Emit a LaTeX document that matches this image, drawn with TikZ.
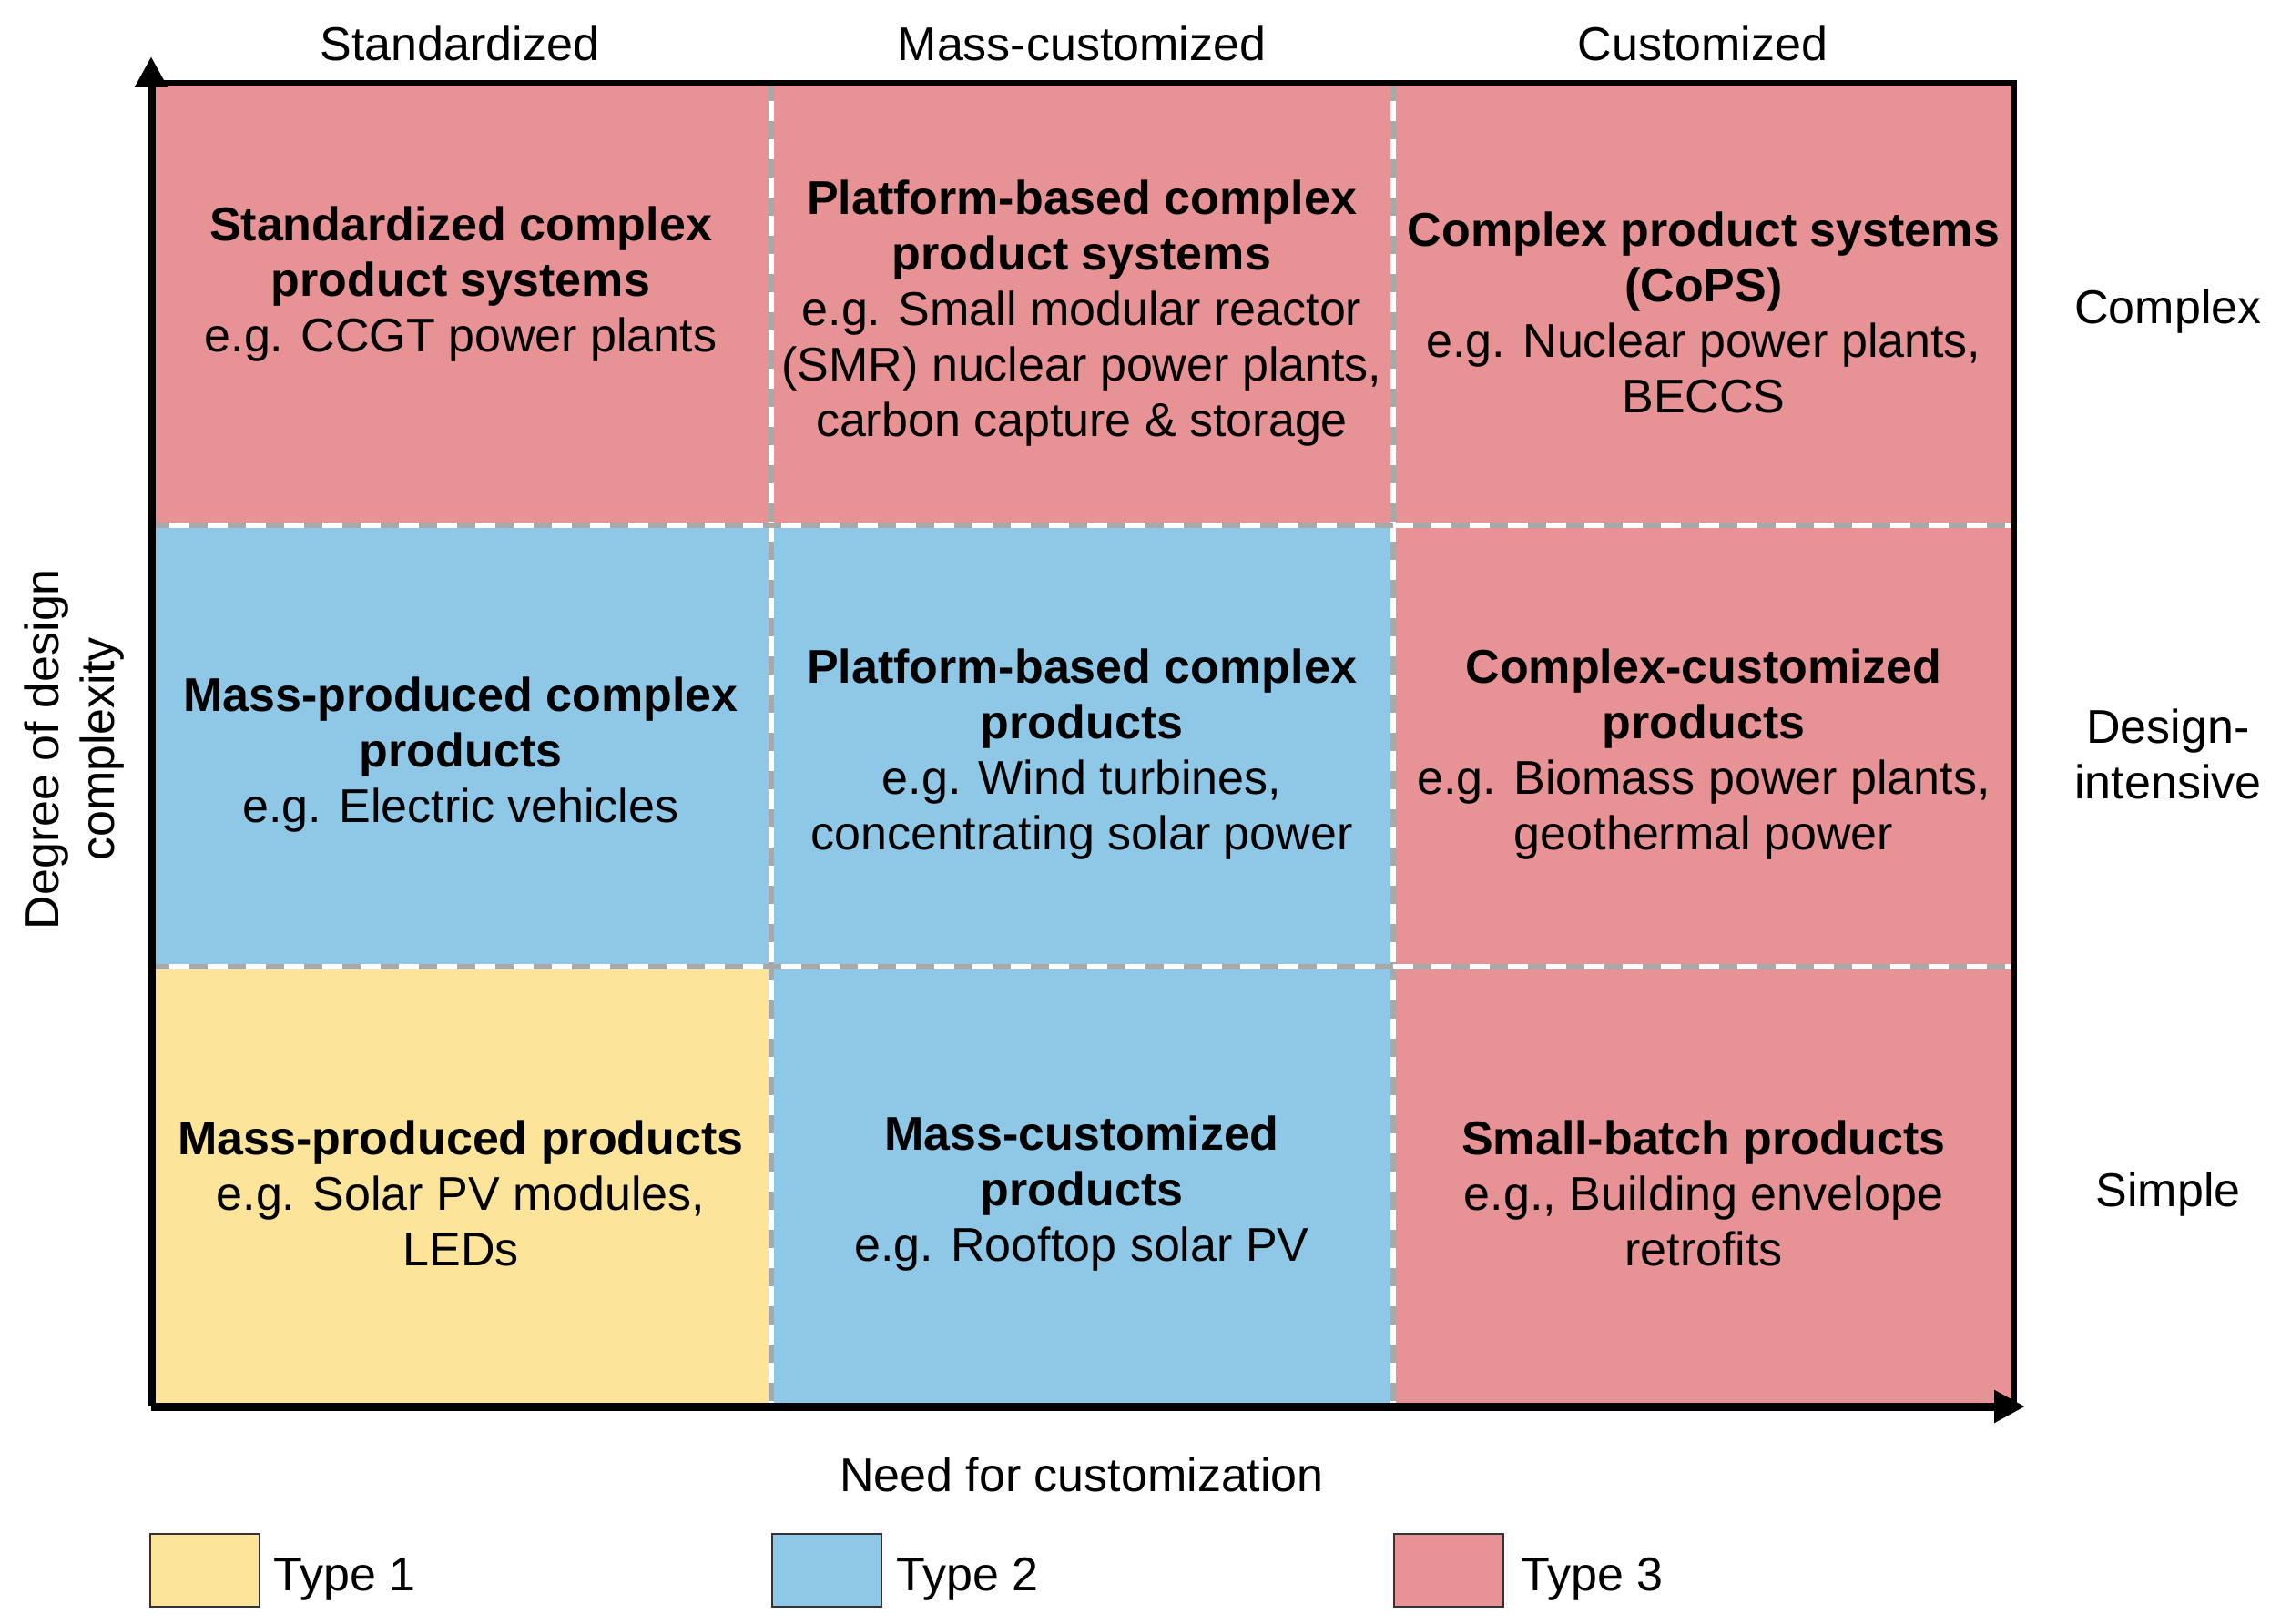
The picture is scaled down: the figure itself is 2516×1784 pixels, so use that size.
\documentclass[tikz,border=0pt]{standalone}
\usepackage{fontspec}
\setmainfont{Liberation Sans}
\usetikzlibrary{arrows.meta}
\definecolor{pinkc}{RGB}{231,146,148}
\definecolor{bluec}{RGB}{143,200,231}
\definecolor{yellowc}{RGB}{253,228,155}
\definecolor{dashgrey}{RGB}{168,168,168}
\begin{document}
\begin{tikzpicture}[x=1pt,y=-1pt,
  txt/.style={align=center, inner sep=0pt, font=\fontsize{52}{61}\selectfont},
  sepwhite/.style={draw=white, line width=6pt},
  sepgrey/.style={draw=dashgrey, line width=6pt, dash pattern=on 20pt off 22pt},
  border/.style={draw=black, line width=5.5pt},
  axis/.style={draw=black, line width=9pt, -{Triangle[length=34pt,width=34pt]}},
  legendbox/.style={draw=black!80, line width=2pt, fill=#1, minimum width=120pt, minimum height=80pt, inner sep=0pt}
]
\useasboundingbox (0,0) rectangle (2516,1784);
% grid coordinates
\coordinate (O) at (166,1545);
\coordinate (TL) at (166,91);
\coordinate (TR) at (2212,91);
\coordinate (BR) at (2212,1545);
\coordinate (Ytip) at (166,62);
\coordinate (Xtip) at (2224,1545);
% cells
\fill[pinkc] (166,91) rectangle (847,577);
\fill[pinkc] (847,91) rectangle (1530,577);
\fill[pinkc] (1530,91) rectangle (2212,577);
\fill[bluec] (166,577) rectangle (847,1062);
\fill[bluec] (847,577) rectangle (1530,1062);
\fill[pinkc] (1530,577) rectangle (2212,1062);
\fill[yellowc] (166,1062) rectangle (847,1545);
\fill[bluec] (847,1062) rectangle (1530,1545);
\fill[pinkc] (1530,1062) rectangle (2212,1545);
% separators
\coordinate (v1t) at (847,91); \coordinate (v1b) at (847,1545);
\coordinate (v2t) at (1530,91); \coordinate (v2b) at (1530,1545);
\coordinate (h1l) at (166,577); \coordinate (h1r) at (2212,577);
\coordinate (h2l) at (166,1062); \coordinate (h2r) at (2212,1062);
\foreach \a/\b in {v1t/v1b, v2t/v2b, h1l/h1r, h2l/h2r}{
  \draw[sepwhite] (\a) -- (\b);
  \draw[sepgrey] (\a) -- (\b);
}
% borders
\draw[border] (TL) -- (TR) -- (BR);
% axes
\draw[axis] (O) -- (Ytip);
\draw[axis] (O) -- (Xtip);
% headers
\node[txt] (hstd) at (505,48) {Standardized};
\node[txt] (hmass) at (1188,48) {Mass-customized};
\node[txt] (hcust) at (1870,48) {Customized};
% right labels
\node[txt] (rcomplex) at (2381,342) {Complex};
\node[txt] (rdesign) at (2381,828) {Design-\\intensive};
\node[txt] (rsimple) at (2381,1312) {Simple};
% axis labels
\node[txt, rotate=90] (ylab) at (82,823) {Degree of design\\complexity};
\node[txt] (xlab) at (1188,1620) {Need for customization};
% cell texts
\node[txt] (c11) at (506,312) {\textbf{Standardized complex}\\\textbf{product systems}\\e.g. CCGT power plants};
\node[txt] (c12) at (1188,344) {\textbf{Platform-based complex}\\\textbf{product systems}\\e.g. Small modular reactor\\(SMR) nuclear power plants,\\carbon capture \& storage};
\node[txt] (c13) at (1871,343) {\textbf{Complex product systems}\\\textbf{(CoPS)}\\e.g. Nuclear power plants,\\BECCS};
\node[txt] (c21) at (506,829) {\textbf{Mass-produced complex}\\\textbf{products}\\e.g. Electric vehicles};
\node[txt] (c22) at (1188,829) {\textbf{Platform-based complex}\\\textbf{products}\\e.g. Wind turbines,\\concentrating solar power};
\node[txt] (c23) at (1871,829) {\textbf{Complex-customized}\\\textbf{products}\\e.g. Biomass power plants,\\geothermal power};
\node[txt] (c31) at (506,1311) {\textbf{Mass-produced products}\\e.g. Solar PV modules,\\LEDs};
\node[txt] (c32) at (1188,1311) {\textbf{Mass-customized}\\\textbf{products}\\e.g. Rooftop solar PV};
\node[txt] (c33) at (1871,1311) {\textbf{Small-batch products}\\e.g., Building envelope\\retrofits};
% legend
\node[legendbox=yellowc] (lg1) at (225,1725) {};
\node[txt, anchor=west] (lt1) at (300,1735) {Type 1};
\node[legendbox=bluec] (lg2) at (908,1725) {};
\node[txt, anchor=west] (lt2) at (984,1735) {Type 2};
\node[legendbox=pinkc] (lg3) at (1591,1725) {};
\node[txt, anchor=west] (lt3) at (1670,1735) {Type 3};
\end{tikzpicture}
\end{document}
